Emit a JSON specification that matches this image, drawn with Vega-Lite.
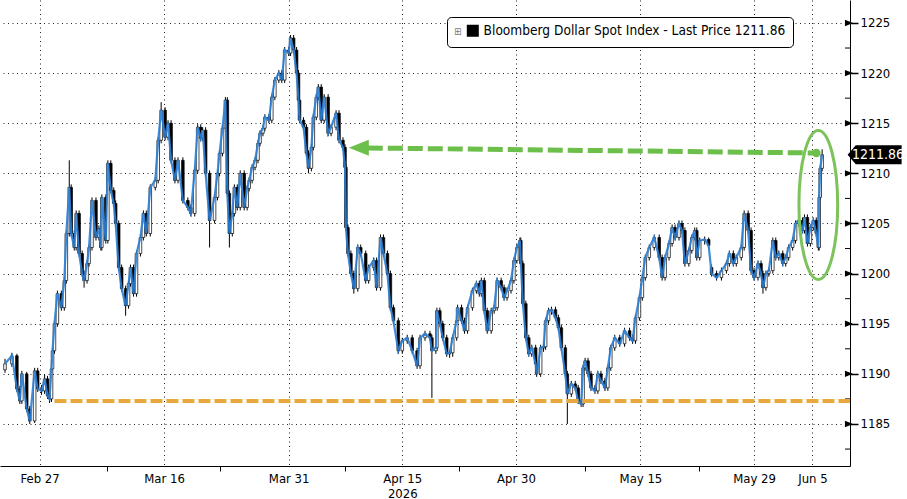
{
  "$schema": "https://vega.github.io/schema/vega-lite/v6.json",
  "width": 850,
  "height": 466,
  "padding": 0,
  "background": "white",
  "config": {
    "view": {"stroke": null},
    "font": "DejaVu Sans Condensed",
    "axis": {"labelFont": "DejaVu Sans Condensed", "labelColor": "black", "labelFontSize": 13, "domainColor": "black", "tickColor": "black", "gridColor": "#222", "gridDash": [1, 3.5], "gridWidth": 1}
  },
  "datasets": {
    "bars": [
      {"t":-3.06,"o":1190.4,"h":1191.5,"l":1190.1,"c":1191.0},
      {"t":-2.45,"o":1191.0,"h":1192.1,"l":1190.7,"c":1191.8},
      {"t":-2.01,"o":1191.8,"h":1192.0,"l":1188.2,"c":1188.5},
      {"t":-1.75,"o":1188.5,"h":1188.8,"l":1187.0,"c":1187.3},
      {"t":-1.57,"o":1187.3,"h":1190.3,"l":1187.0,"c":1190.0},
      {"t":-1.14,"o":1190.0,"h":1190.2,"l":1186.2,"c":1186.5},
      {"t":-0.87,"o":1186.5,"h":1186.8,"l":1185.0,"c":1185.3},
      {"t":-0.44,"o":1185.3,"h":1190.6,"l":1185.1,"c":1190.3},
      {"t":-0.17,"o":1190.3,"h":1190.6,"l":1188.2,"c":1188.5},
      {"t":0.17,"o":1188.5,"h":1188.9,"l":1187.9,"c":1188.3},
      {"t":0.44,"o":1188.3,"h":1189.9,"l":1188.0,"c":1189.5},
      {"t":0.70,"o":1189.5,"h":1189.8,"l":1187.5,"c":1187.8},
      {"t":0.87,"o":1187.8,"h":1188.1,"l":1187.1,"c":1187.5},
      {"t":1.05,"o":1187.5,"h":1190.8,"l":1187.2,"c":1190.5},
      {"t":1.14,"o":1190.5,"h":1192.6,"l":1190.2,"c":1192.3},
      {"t":1.31,"o":1192.3,"h":1195.3,"l":1192.0,"c":1195.0},
      {"t":1.57,"o":1195.0,"h":1198.3,"l":1194.7,"c":1198.0},
      {"t":1.92,"o":1198.0,"h":1198.3,"l":1196.3,"c":1196.6},
      {"t":2.18,"o":1196.6,"h":1199.6,"l":1196.3,"c":1199.3},
      {"t":2.36,"o":1199.3,"h":1204.3,"l":1199.0,"c":1204.0},
      {"t":2.62,"o":1204.0,"h":1211.3,"l":1203.7,"c":1208.6},
      {"t":2.79,"o":1208.6,"h":1208.9,"l":1203.7,"c":1204.0},
      {"t":3.06,"o":1204.0,"h":1204.3,"l":1202.3,"c":1202.6},
      {"t":3.23,"o":1202.6,"h":1206.3,"l":1202.3,"c":1206.0},
      {"t":3.49,"o":1206.0,"h":1206.3,"l":1201.7,"c":1202.0},
      {"t":3.76,"o":1202.0,"h":1202.3,"l":1199.7,"c":1200.0},
      {"t":3.93,"o":1200.0,"h":1200.3,"l":1198.6,"c":1199.3},
      {"t":4.19,"o":1199.3,"h":1201.3,"l":1199.0,"c":1201.0},
      {"t":4.37,"o":1201.0,"h":1202.9,"l":1200.7,"c":1202.6},
      {"t":4.63,"o":1202.6,"h":1207.6,"l":1202.3,"c":1207.3},
      {"t":4.98,"o":1207.3,"h":1207.6,"l":1203.3,"c":1203.6},
      {"t":5.24,"o":1203.6,"h":1204.8,"l":1203.3,"c":1204.5},
      {"t":5.41,"o":1204.5,"h":1204.8,"l":1202.3,"c":1202.6},
      {"t":5.50,"o":1202.6,"h":1207.9,"l":1202.3,"c":1207.6},
      {"t":5.85,"o":1207.6,"h":1207.9,"l":1203.0,"c":1203.3},
      {"t":6.03,"o":1203.3,"h":1211.3,"l":1203.0,"c":1211.0},
      {"t":6.29,"o":1211.0,"h":1211.3,"l":1208.0,"c":1208.3},
      {"t":6.55,"o":1208.3,"h":1208.6,"l":1206.7,"c":1207.0},
      {"t":6.72,"o":1207.0,"h":1207.3,"l":1204.7,"c":1205.0},
      {"t":6.99,"o":1205.0,"h":1205.3,"l":1200.3,"c":1200.6},
      {"t":7.25,"o":1200.6,"h":1200.9,"l":1198.2,"c":1198.5},
      {"t":7.60,"o":1198.5,"h":1198.8,"l":1195.8,"c":1196.8},
      {"t":7.86,"o":1196.8,"h":1199.3,"l":1196.5,"c":1199.0},
      {"t":8.03,"o":1199.0,"h":1200.9,"l":1198.7,"c":1200.6},
      {"t":8.30,"o":1200.6,"h":1200.9,"l":1197.7,"c":1198.0},
      {"t":8.56,"o":1198.0,"h":1202.3,"l":1197.7,"c":1202.0},
      {"t":8.91,"o":1202.0,"h":1203.9,"l":1201.7,"c":1203.6},
      {"t":9.17,"o":1203.6,"h":1206.3,"l":1203.3,"c":1206.0},
      {"t":9.43,"o":1206.0,"h":1206.3,"l":1203.7,"c":1204.0},
      {"t":9.78,"o":1204.0,"h":1208.9,"l":1203.7,"c":1208.6},
      {"t":10.22,"o":1208.6,"h":1209.6,"l":1208.3,"c":1209.3},
      {"t":10.48,"o":1209.3,"h":1213.6,"l":1209.0,"c":1213.3},
      {"t":10.74,"o":1213.3,"h":1217.1,"l":1213.0,"c":1216.3},
      {"t":11.09,"o":1216.3,"h":1216.6,"l":1213.3,"c":1213.6},
      {"t":11.35,"o":1213.6,"h":1215.3,"l":1213.3,"c":1215.0},
      {"t":11.62,"o":1215.0,"h":1215.3,"l":1211.0,"c":1211.3},
      {"t":11.96,"o":1211.3,"h":1211.6,"l":1209.0,"c":1209.3},
      {"t":12.23,"o":1209.3,"h":1211.6,"l":1209.0,"c":1211.3},
      {"t":12.66,"o":1211.3,"h":1211.6,"l":1207.0,"c":1207.3},
      {"t":13.10,"o":1207.3,"h":1207.6,"l":1206.3,"c":1206.6},
      {"t":13.36,"o":1206.6,"h":1206.9,"l":1205.7,"c":1206.0},
      {"t":13.71,"o":1206.0,"h":1210.6,"l":1205.7,"c":1210.3},
      {"t":13.97,"o":1210.3,"h":1214.9,"l":1210.0,"c":1214.6},
      {"t":14.24,"o":1214.6,"h":1214.9,"l":1213.2,"c":1213.5},
      {"t":14.41,"o":1213.5,"h":1214.6,"l":1213.2,"c":1214.3},
      {"t":14.67,"o":1214.3,"h":1214.6,"l":1209.7,"c":1210.0},
      {"t":15.02,"o":1210.0,"h":1210.3,"l":1202.6,"c":1205.3},
      {"t":15.46,"o":1205.3,"h":1207.9,"l":1205.0,"c":1207.6},
      {"t":15.72,"o":1207.6,"h":1210.3,"l":1207.3,"c":1210.0},
      {"t":15.90,"o":1210.0,"h":1212.3,"l":1209.7,"c":1212.0},
      {"t":16.16,"o":1212.0,"h":1214.8,"l":1211.7,"c":1214.5},
      {"t":16.42,"o":1214.5,"h":1217.6,"l":1214.2,"c":1217.3},
      {"t":16.59,"o":1217.3,"h":1217.6,"l":1207.7,"c":1208.0},
      {"t":16.77,"o":1208.0,"h":1208.3,"l":1202.6,"c":1204.0},
      {"t":17.03,"o":1204.0,"h":1206.3,"l":1203.7,"c":1206.0},
      {"t":17.21,"o":1206.0,"h":1208.9,"l":1205.7,"c":1208.6},
      {"t":17.47,"o":1208.6,"h":1208.9,"l":1206.3,"c":1206.6},
      {"t":17.73,"o":1206.6,"h":1210.3,"l":1206.3,"c":1210.0},
      {"t":18.08,"o":1210.0,"h":1210.3,"l":1206.3,"c":1206.6},
      {"t":18.34,"o":1206.6,"h":1208.8,"l":1206.3,"c":1208.5},
      {"t":18.52,"o":1208.5,"h":1209.6,"l":1208.2,"c":1209.3},
      {"t":18.78,"o":1209.3,"h":1210.9,"l":1209.0,"c":1210.6},
      {"t":19.04,"o":1210.6,"h":1211.6,"l":1210.3,"c":1211.3},
      {"t":19.30,"o":1211.3,"h":1213.3,"l":1211.0,"c":1213.0},
      {"t":19.48,"o":1213.0,"h":1214.3,"l":1212.7,"c":1214.0},
      {"t":19.74,"o":1214.0,"h":1214.8,"l":1213.7,"c":1214.5},
      {"t":19.91,"o":1214.5,"h":1215.9,"l":1214.2,"c":1215.6},
      {"t":20.26,"o":1215.6,"h":1215.9,"l":1215.0,"c":1215.3},
      {"t":20.52,"o":1215.3,"h":1217.9,"l":1215.0,"c":1217.6},
      {"t":20.79,"o":1217.6,"h":1219.6,"l":1217.3,"c":1219.3},
      {"t":21.14,"o":1219.3,"h":1220.3,"l":1219.0,"c":1220.0},
      {"t":21.40,"o":1220.0,"h":1220.3,"l":1219.0,"c":1219.3},
      {"t":21.66,"o":1219.3,"h":1222.6,"l":1219.0,"c":1222.3},
      {"t":22.01,"o":1222.3,"h":1222.6,"l":1221.7,"c":1222.0},
      {"t":22.18,"o":1222.0,"h":1223.8,"l":1221.7,"c":1223.5},
      {"t":22.45,"o":1223.5,"h":1223.8,"l":1222.0,"c":1222.3},
      {"t":22.71,"o":1222.3,"h":1222.6,"l":1219.7,"c":1220.0},
      {"t":22.88,"o":1220.0,"h":1220.3,"l":1217.0,"c":1217.3},
      {"t":22.97,"o":1217.3,"h":1217.6,"l":1215.0,"c":1215.3},
      {"t":23.32,"o":1215.3,"h":1215.6,"l":1214.3,"c":1214.6},
      {"t":23.58,"o":1214.6,"h":1214.9,"l":1211.7,"c":1212.0},
      {"t":23.76,"o":1212.0,"h":1212.3,"l":1210.0,"c":1210.5},
      {"t":24.02,"o":1210.5,"h":1212.9,"l":1210.2,"c":1212.6},
      {"t":24.19,"o":1212.6,"h":1215.9,"l":1212.3,"c":1215.6},
      {"t":24.45,"o":1215.6,"h":1217.9,"l":1215.3,"c":1217.6},
      {"t":24.63,"o":1217.6,"h":1218.9,"l":1217.3,"c":1218.6},
      {"t":24.89,"o":1218.6,"h":1218.9,"l":1215.0,"c":1215.3},
      {"t":25.15,"o":1215.3,"h":1217.9,"l":1215.0,"c":1217.6},
      {"t":25.50,"o":1217.6,"h":1217.9,"l":1213.7,"c":1214.0},
      {"t":25.76,"o":1214.0,"h":1214.9,"l":1213.7,"c":1214.6},
      {"t":26.20,"o":1214.6,"h":1216.3,"l":1214.3,"c":1216.0},
      {"t":26.46,"o":1216.0,"h":1216.3,"l":1213.0,"c":1213.3},
      {"t":26.81,"o":1213.3,"h":1213.6,"l":1212.3,"c":1212.6},
      {"t":26.99,"o":1212.6,"h":1212.9,"l":1210.3,"c":1210.6},
      {"t":27.07,"o":1210.6,"h":1210.9,"l":1204.3,"c":1204.6},
      {"t":27.25,"o":1204.6,"h":1204.9,"l":1201.7,"c":1202.0},
      {"t":27.51,"o":1202.0,"h":1202.3,"l":1199.7,"c":1200.0},
      {"t":27.77,"o":1200.0,"h":1200.3,"l":1198.0,"c":1198.5},
      {"t":28.12,"o":1198.5,"h":1202.9,"l":1198.2,"c":1202.6},
      {"t":28.38,"o":1202.6,"h":1202.9,"l":1201.7,"c":1202.0},
      {"t":28.82,"o":1202.0,"h":1202.3,"l":1199.0,"c":1199.3},
      {"t":29.08,"o":1199.3,"h":1200.9,"l":1199.0,"c":1200.6},
      {"t":29.52,"o":1200.6,"h":1201.6,"l":1200.3,"c":1201.3},
      {"t":29.78,"o":1201.3,"h":1201.6,"l":1198.3,"c":1198.6},
      {"t":30.13,"o":1198.6,"h":1203.9,"l":1198.3,"c":1203.6},
      {"t":30.39,"o":1203.6,"h":1203.9,"l":1201.7,"c":1202.0},
      {"t":30.74,"o":1202.0,"h":1202.3,"l":1199.7,"c":1200.0},
      {"t":31.00,"o":1200.0,"h":1200.3,"l":1196.3,"c":1196.6},
      {"t":31.27,"o":1196.6,"h":1196.9,"l":1195.0,"c":1195.3},
      {"t":31.70,"o":1195.3,"h":1195.6,"l":1192.0,"c":1192.3},
      {"t":32.05,"o":1192.3,"h":1193.6,"l":1192.0,"c":1193.3},
      {"t":32.49,"o":1193.3,"h":1193.9,"l":1193.0,"c":1193.6},
      {"t":32.93,"o":1193.6,"h":1193.9,"l":1192.0,"c":1192.3},
      {"t":33.36,"o":1192.3,"h":1192.6,"l":1190.5,"c":1190.8},
      {"t":33.62,"o":1190.8,"h":1193.9,"l":1190.5,"c":1193.6},
      {"t":34.06,"o":1193.6,"h":1194.3,"l":1193.3,"c":1194.0},
      {"t":34.50,"o":1194.0,"h":1194.3,"l":1193.3,"c":1193.6},
      {"t":34.67,"o":1193.6,"h":1193.9,"l":1187.6,"c":1192.3},
      {"t":35.02,"o":1192.3,"h":1192.9,"l":1192.0,"c":1192.6},
      {"t":35.11,"o":1192.6,"h":1196.6,"l":1192.3,"c":1196.3},
      {"t":35.37,"o":1196.3,"h":1196.6,"l":1194.7,"c":1195.0},
      {"t":35.63,"o":1195.0,"h":1195.3,"l":1193.3,"c":1193.6},
      {"t":35.98,"o":1193.6,"h":1193.9,"l":1191.7,"c":1192.0},
      {"t":36.24,"o":1192.0,"h":1192.4,"l":1191.6,"c":1192.1},
      {"t":36.51,"o":1192.1,"h":1193.9,"l":1191.7,"c":1193.6},
      {"t":36.86,"o":1193.6,"h":1195.6,"l":1193.3,"c":1195.3},
      {"t":36.94,"o":1195.3,"h":1196.9,"l":1195.0,"c":1196.6},
      {"t":37.29,"o":1196.6,"h":1196.9,"l":1195.0,"c":1195.3},
      {"t":37.55,"o":1195.3,"h":1195.6,"l":1194.0,"c":1194.3},
      {"t":37.82,"o":1194.3,"h":1196.9,"l":1194.0,"c":1196.6},
      {"t":38.25,"o":1196.6,"h":1198.6,"l":1196.3,"c":1198.3},
      {"t":38.60,"o":1198.3,"h":1199.3,"l":1198.0,"c":1199.0},
      {"t":38.86,"o":1199.0,"h":1199.3,"l":1197.7,"c":1198.0},
      {"t":39.04,"o":1198.0,"h":1199.6,"l":1197.7,"c":1199.3},
      {"t":39.30,"o":1199.3,"h":1199.6,"l":1196.0,"c":1196.3},
      {"t":39.56,"o":1196.3,"h":1196.6,"l":1194.0,"c":1194.3},
      {"t":39.91,"o":1194.3,"h":1196.6,"l":1194.0,"c":1196.3},
      {"t":40.17,"o":1196.3,"h":1196.9,"l":1196.0,"c":1196.6},
      {"t":40.44,"o":1196.6,"h":1199.6,"l":1196.3,"c":1199.3},
      {"t":40.79,"o":1199.3,"h":1199.6,"l":1198.3,"c":1198.6},
      {"t":41.05,"o":1198.6,"h":1198.9,"l":1197.3,"c":1197.6},
      {"t":41.31,"o":1197.6,"h":1198.6,"l":1197.3,"c":1198.3},
      {"t":41.66,"o":1198.3,"h":1199.6,"l":1198.0,"c":1199.3},
      {"t":41.92,"o":1199.3,"h":1201.6,"l":1199.0,"c":1201.3},
      {"t":42.18,"o":1201.3,"h":1202.9,"l":1201.0,"c":1202.6},
      {"t":42.45,"o":1202.6,"h":1203.6,"l":1202.3,"c":1203.3},
      {"t":42.53,"o":1203.3,"h":1203.6,"l":1200.7,"c":1201.0},
      {"t":42.71,"o":1201.0,"h":1201.3,"l":1196.7,"c":1197.0},
      {"t":42.97,"o":1197.0,"h":1197.3,"l":1193.3,"c":1193.6},
      {"t":43.23,"o":1193.6,"h":1193.9,"l":1191.7,"c":1192.0},
      {"t":43.49,"o":1192.0,"h":1192.9,"l":1191.7,"c":1192.6},
      {"t":43.84,"o":1192.6,"h":1192.9,"l":1190.7,"c":1191.0},
      {"t":43.93,"o":1191.0,"h":1191.3,"l":1189.7,"c":1190.0},
      {"t":44.28,"o":1190.0,"h":1192.9,"l":1189.7,"c":1192.6},
      {"t":44.54,"o":1192.6,"h":1193.0,"l":1192.2,"c":1192.7},
      {"t":44.72,"o":1192.7,"h":1195.6,"l":1192.4,"c":1195.3},
      {"t":44.98,"o":1195.3,"h":1196.6,"l":1195.0,"c":1196.3},
      {"t":45.24,"o":1196.3,"h":1196.7,"l":1195.9,"c":1196.4},
      {"t":45.59,"o":1196.4,"h":1196.7,"l":1195.3,"c":1195.6},
      {"t":45.85,"o":1195.6,"h":1195.9,"l":1194.3,"c":1194.6},
      {"t":46.11,"o":1194.6,"h":1194.9,"l":1192.3,"c":1192.6},
      {"t":46.46,"o":1192.6,"h":1192.9,"l":1189.7,"c":1190.0},
      {"t":46.64,"o":1190.0,"h":1190.3,"l":1185.0,"c":1188.0},
      {"t":46.99,"o":1188.0,"h":1189.3,"l":1187.7,"c":1189.0},
      {"t":47.34,"o":1189.0,"h":1189.3,"l":1188.3,"c":1188.6},
      {"t":47.60,"o":1188.6,"h":1188.9,"l":1187.0,"c":1187.3},
      {"t":47.86,"o":1187.3,"h":1187.6,"l":1186.7,"c":1187.0},
      {"t":48.03,"o":1187.0,"h":1190.9,"l":1186.7,"c":1190.6},
      {"t":48.21,"o":1190.6,"h":1191.6,"l":1190.3,"c":1191.3},
      {"t":48.47,"o":1191.3,"h":1191.6,"l":1189.7,"c":1190.0},
      {"t":48.73,"o":1190.0,"h":1190.3,"l":1188.3,"c":1188.6},
      {"t":49.08,"o":1188.6,"h":1188.9,"l":1188.0,"c":1188.3},
      {"t":49.34,"o":1188.3,"h":1190.3,"l":1188.0,"c":1190.0},
      {"t":49.61,"o":1190.0,"h":1190.3,"l":1189.0,"c":1189.3},
      {"t":49.96,"o":1189.3,"h":1189.6,"l":1188.3,"c":1188.6},
      {"t":50.22,"o":1188.6,"h":1190.9,"l":1188.3,"c":1190.6},
      {"t":50.48,"o":1190.6,"h":1192.9,"l":1190.3,"c":1192.6},
      {"t":50.83,"o":1192.6,"h":1193.9,"l":1192.3,"c":1193.6},
      {"t":51.27,"o":1193.6,"h":1193.9,"l":1192.7,"c":1193.0},
      {"t":51.70,"o":1193.0,"h":1194.6,"l":1192.7,"c":1194.3},
      {"t":52.14,"o":1194.3,"h":1194.6,"l":1193.3,"c":1193.6},
      {"t":52.40,"o":1193.6,"h":1193.9,"l":1193.0,"c":1193.3},
      {"t":52.66,"o":1193.3,"h":1195.9,"l":1193.0,"c":1195.6},
      {"t":53.01,"o":1195.6,"h":1197.9,"l":1195.3,"c":1197.6},
      {"t":53.27,"o":1197.6,"h":1199.9,"l":1197.3,"c":1199.6},
      {"t":53.53,"o":1199.6,"h":1201.9,"l":1199.3,"c":1201.6},
      {"t":53.88,"o":1201.6,"h":1202.9,"l":1201.3,"c":1202.6},
      {"t":54.32,"o":1202.6,"h":1203.9,"l":1202.3,"c":1203.6},
      {"t":54.76,"o":1203.6,"h":1203.9,"l":1201.3,"c":1201.6},
      {"t":55.02,"o":1201.6,"h":1201.9,"l":1199.3,"c":1199.6},
      {"t":55.28,"o":1199.6,"h":1201.9,"l":1199.3,"c":1201.6},
      {"t":55.63,"o":1201.6,"h":1203.3,"l":1201.3,"c":1203.0},
      {"t":55.90,"o":1203.0,"h":1204.9,"l":1202.7,"c":1204.6},
      {"t":56.16,"o":1204.6,"h":1204.9,"l":1203.3,"c":1203.6},
      {"t":56.51,"o":1203.6,"h":1205.3,"l":1203.3,"c":1205.0},
      {"t":56.77,"o":1205.0,"h":1205.3,"l":1204.0,"c":1204.3},
      {"t":57.03,"o":1204.3,"h":1204.6,"l":1200.7,"c":1201.0},
      {"t":57.38,"o":1201.0,"h":1202.6,"l":1200.7,"c":1202.3},
      {"t":57.64,"o":1202.3,"h":1203.9,"l":1202.0,"c":1203.6},
      {"t":57.90,"o":1203.6,"h":1204.6,"l":1203.3,"c":1204.3},
      {"t":58.08,"o":1204.3,"h":1204.6,"l":1201.3,"c":1201.6},
      {"t":58.34,"o":1201.6,"h":1203.6,"l":1201.3,"c":1203.3},
      {"t":58.78,"o":1203.3,"h":1203.7,"l":1202.9,"c":1203.4},
      {"t":59.13,"o":1203.4,"h":1203.6,"l":1202.5,"c":1202.8},
      {"t":59.39,"o":1200.6,"h":1200.9,"l":1199.7,"c":1200.0},
      {"t":59.83,"o":1200.0,"h":1200.3,"l":1199.3,"c":1199.6},
      {"t":60.26,"o":1199.6,"h":1200.6,"l":1199.3,"c":1200.3},
      {"t":60.70,"o":1200.3,"h":1201.3,"l":1200.0,"c":1201.0},
      {"t":60.96,"o":1201.0,"h":1202.3,"l":1200.7,"c":1202.0},
      {"t":61.31,"o":1202.0,"h":1202.3,"l":1200.7,"c":1201.0},
      {"t":61.57,"o":1201.0,"h":1201.9,"l":1200.7,"c":1201.6},
      {"t":62.01,"o":1201.6,"h":1202.9,"l":1201.3,"c":1202.6},
      {"t":62.27,"o":1202.6,"h":1206.3,"l":1202.3,"c":1206.0},
      {"t":62.62,"o":1206.0,"h":1206.3,"l":1204.0,"c":1204.3},
      {"t":62.88,"o":1204.3,"h":1204.6,"l":1200.0,"c":1200.3},
      {"t":63.14,"o":1200.3,"h":1200.6,"l":1199.3,"c":1199.6},
      {"t":63.49,"o":1199.6,"h":1201.3,"l":1199.3,"c":1201.0},
      {"t":63.76,"o":1201.0,"h":1201.3,"l":1199.7,"c":1200.0},
      {"t":63.93,"o":1200.0,"h":1200.3,"l":1198.0,"c":1198.6},
      {"t":64.19,"o":1198.6,"h":1200.3,"l":1198.3,"c":1200.0},
      {"t":64.45,"o":1200.0,"h":1200.6,"l":1199.7,"c":1200.3},
      {"t":64.80,"o":1200.3,"h":1203.6,"l":1200.0,"c":1203.3},
      {"t":65.06,"o":1203.3,"h":1203.6,"l":1201.3,"c":1201.6},
      {"t":65.33,"o":1201.6,"h":1202.3,"l":1201.3,"c":1202.0},
      {"t":65.68,"o":1202.0,"h":1202.3,"l":1200.7,"c":1201.0},
      {"t":65.94,"o":1201.0,"h":1201.9,"l":1200.7,"c":1201.6},
      {"t":66.20,"o":1201.6,"h":1202.9,"l":1201.3,"c":1202.6},
      {"t":66.55,"o":1202.6,"h":1203.6,"l":1202.3,"c":1203.3},
      {"t":66.81,"o":1203.3,"h":1205.3,"l":1203.0,"c":1205.0},
      {"t":67.07,"o":1205.0,"h":1205.6,"l":1204.7,"c":1205.3},
      {"t":67.42,"o":1205.3,"h":1205.6,"l":1204.0,"c":1204.3},
      {"t":67.60,"o":1204.3,"h":1205.9,"l":1204.0,"c":1205.6},
      {"t":67.86,"o":1205.6,"h":1205.9,"l":1202.7,"c":1203.0},
      {"t":68.12,"o":1203.0,"h":1204.9,"l":1202.7,"c":1204.6},
      {"t":68.38,"o":1204.6,"h":1205.6,"l":1204.3,"c":1205.3},
      {"t":68.64,"o":1205.3,"h":1205.6,"l":1203.7,"c":1204.0},
      {"t":68.82,"o":1204.0,"h":1204.3,"l":1202.3,"c":1202.6},
      {"t":68.90,"o":1202.6,"h":1207.9,"l":1202.3,"c":1207.6},
      {"t":68.99,"o":1207.6,"h":1210.8,"l":1207.3,"c":1210.5},
      {"t":69.16,"o":1210.5,"h":1212.4,"l":1210.2,"c":1211.86}
    ],
    "majors": [
      {"v": 1185}, {"v": 1190}, {"v": 1195}, {"v": 1200}, {"v": 1205}, {"v": 1210}, {"v": 1215}, {"v": 1220}, {"v": 1225}
    ],
    "minors": [
      {"v": 1182.5}, {"v": 1187.5}, {"v": 1192.5}, {"v": 1197.5}, {"v": 1202.5}, {"v": 1207.5}, {"v": 1217.5}, {"v": 1222.5}
    ]
  },
  "layer": [
    {
      "data": {"name": "bars"},
      "mark": {"type": "rule", "strokeWidth": 1, "clip": true},
      "encoding": {
        "x": {
          "field": "t", "type": "quantitative", "title": null,
          "scale": {"domain": [-3.06, 71.18], "nice": false, "zero": false},
          "axis": {
            "orient": "bottom",
            "values": [0, 5.94, 11, 15.98, 22.01, 26.99, 32.05, 37.03, 42.1, 48.21, 53.1, 58.25, 63.14, 68.3],
            "labelExpr": "datum.value == 0 ? 'Feb 27' : datum.value == 11 ? 'Mar 16' : datum.value == 22.01 ? 'Mar 31' : datum.value == 32.05 ? ['Apr 15', '2026'] : datum.value == 42.1 ? 'Apr 30' : datum.value == 53.1 ? 'May 15' : datum.value == 63.14 ? 'May 29' : datum.value == 68.3 ? 'Jun 5' : ''",
            "labelOverlap": false, "labelFlush": false, "labelPadding": 1, "labelLineHeight": 15,
            "tickSize": 5,
            "tickOpacity": {"condition": {"test": "indexof([5.94, 15.98, 26.99, 37.03, 48.21, 58.25], datum.value) >= 0", "value": 1}, "value": 0},
            "grid": true,
            "gridOpacity": {"condition": {"test": "indexof([5.94, 15.98, 26.99, 37.03, 48.21, 58.25], datum.value) >= 0", "value": 0}, "value": 1}
          }
        },
        "y": {
          "field": "l", "type": "quantitative", "title": null,
          "scale": {"domain": [1180.81, 1227.29], "nice": false, "zero": false},
          "axis": {
            "orient": "right",
            "values": [1185, 1190, 1195, 1200, 1205, 1210, 1215, 1220, 1225],
            "format": "d",
            "labelOverlap": false,
            "labelPadding": 2,
            "tickSize": 8,
            "tickWidth": 1.5,
            "grid": true
          }
        },
        "y2": {"field": "h"},
        "color": {
          "datum": "Bloomberg Dollar Spot Index - Last Price 1211.86",
          "scale": {"range": ["black"]},
          "legend": {
            "orient": "none", "legendX": 447, "legendY": 17,
            "title": "⊞", "titleOrient": "left", "titleFontSize": 10, "titleColor": "#777", "titleFontWeight": "normal", "titlePadding": 4,
            "symbolType": "square", "symbolSize": 110, "symbolFillColor": "black", "symbolStrokeColor": "black",
            "labelFont": "DejaVu Sans Condensed", "labelFontSize": 13.6, "labelColor": "black", "labelLimit": 0,
            "strokeColor": "black", "fillColor": "white", "cornerRadius": 4, "padding": 7
          }
        }
      }
    },
    {
      "data": {"name": "bars"},
      "mark": {"type": "bar", "width": 2.6, "stroke": "black", "strokeWidth": 0.7, "clip": true},
      "encoding": {
        "x": {"field": "t", "type": "quantitative", "title": null},
        "y": {"field": "o", "type": "quantitative", "title": null},
        "y2": {"field": "c"},
        "fill": {"condition": {"test": "datum.c >= datum.o", "value": "white"}, "value": "black"}
      }
    },
    {
      "data": {"name": "bars"},
      "mark": {"type": "line", "color": "#2b7fd6", "strokeWidth": 2.2, "opacity": 0.9, "clip": true},
      "encoding": {
        "x": {"field": "t", "type": "quantitative", "title": null},
        "y": {"field": "c", "type": "quantitative", "title": null}
      }
    },
    {
      "data": {"name": "minors"},
      "mark": {"type": "tick", "orient": "horizontal", "size": 5, "thickness": 1, "color": "black", "opacity": 1},
      "encoding": {
        "x": {"datum": 71.4, "type": "quantitative", "title": null},
        "y": {"field": "v", "type": "quantitative", "title": null}
      }
    },
    {
      "data": {"name": "majors"},
      "mark": {"type": "point", "shape": "M-1,-0.8 L1,0 L-1,0.8 Z", "size": 64, "filled": true, "color": "black", "opacity": 1},
      "encoding": {
        "x": {"datum": 71.53, "type": "quantitative", "title": null},
        "y": {"field": "v", "type": "quantitative", "title": null}
      }
    },
    {
      "data": {"values": [{}]},
      "mark": {"type": "rule", "color": "#e9a83c", "strokeWidth": 4, "strokeDash": [12, 4]},
      "encoding": {
        "x": {"datum": 1.31, "type": "quantitative", "title": null},
        "x2": {"datum": 71.62},
        "y": {"datum": 1187.29, "type": "quantitative", "title": null}
      }
    },
    {
      "data": {"values": [{}]},
      "mark": {"type": "rule", "color": "#6cbf4a", "strokeWidth": 5, "strokeDash": [15, 5]},
      "encoding": {
        "x": {"datum": 29.0, "type": "quantitative", "title": null},
        "x2": {"datum": 68.65},
        "y": {"datum": 1212.53, "type": "quantitative", "title": null},
        "y2": {"datum": 1212.03}
      }
    },
    {
      "data": {"values": [{}]},
      "mark": {"type": "point", "shape": "M-1,0 L1,-0.8 L1,0.8 Z", "size": 400, "filled": true, "color": "#6cbf4a", "opacity": 1},
      "encoding": {
        "x": {"datum": 28.21, "type": "quantitative", "title": null},
        "y": {"datum": 1212.55, "type": "quantitative", "title": null}
      }
    },
    {
      "data": {"values": [{}]},
      "mark": {"type": "point", "shape": "circle", "size": 70, "filled": true, "color": "#6cbf4a", "opacity": 1},
      "encoding": {
        "x": {"datum": 68.65, "type": "quantitative", "title": null},
        "y": {"datum": 1212.03, "type": "quantitative", "title": null}
      }
    },
    {
      "data": {"values": [{}]},
      "mark": {"type": "point", "shape": "M0,-1 A0.26,1 0 1,1 0,1 A0.26,1 0 1,1 0,-1 Z", "size": 22201, "filled": false, "stroke": "#7dc35b", "strokeWidth": 3, "opacity": 1},
      "encoding": {
        "x": {"datum": 68.82, "type": "quantitative", "title": null},
        "y": {"datum": 1206.85, "type": "quantitative", "title": null}
      }
    },
    {
      "data": {"values": [{}]},
      "mark": {"type": "point", "shape": "M-1,0 L-0.7,-0.35 L1,-0.35 L1,0.35 L-0.7,0.35 Z", "size": 2916, "filled": true, "color": "black", "opacity": 1},
      "encoding": {
        "x": {"datum": 73.8, "type": "quantitative", "title": null},
        "y": {"datum": 1211.86, "type": "quantitative", "title": null}
      }
    },
    {
      "data": {"values": [{"label": "1211.86"}]},
      "mark": {"type": "text", "color": "white", "font": "DejaVu Sans Condensed", "fontSize": 14, "align": "center", "baseline": "middle"},
      "encoding": {
        "x": {"datum": 74.1, "type": "quantitative", "title": null},
        "y": {"datum": 1211.86, "type": "quantitative", "title": null},
        "text": {"field": "label"}
      }
    }
  ]
}
